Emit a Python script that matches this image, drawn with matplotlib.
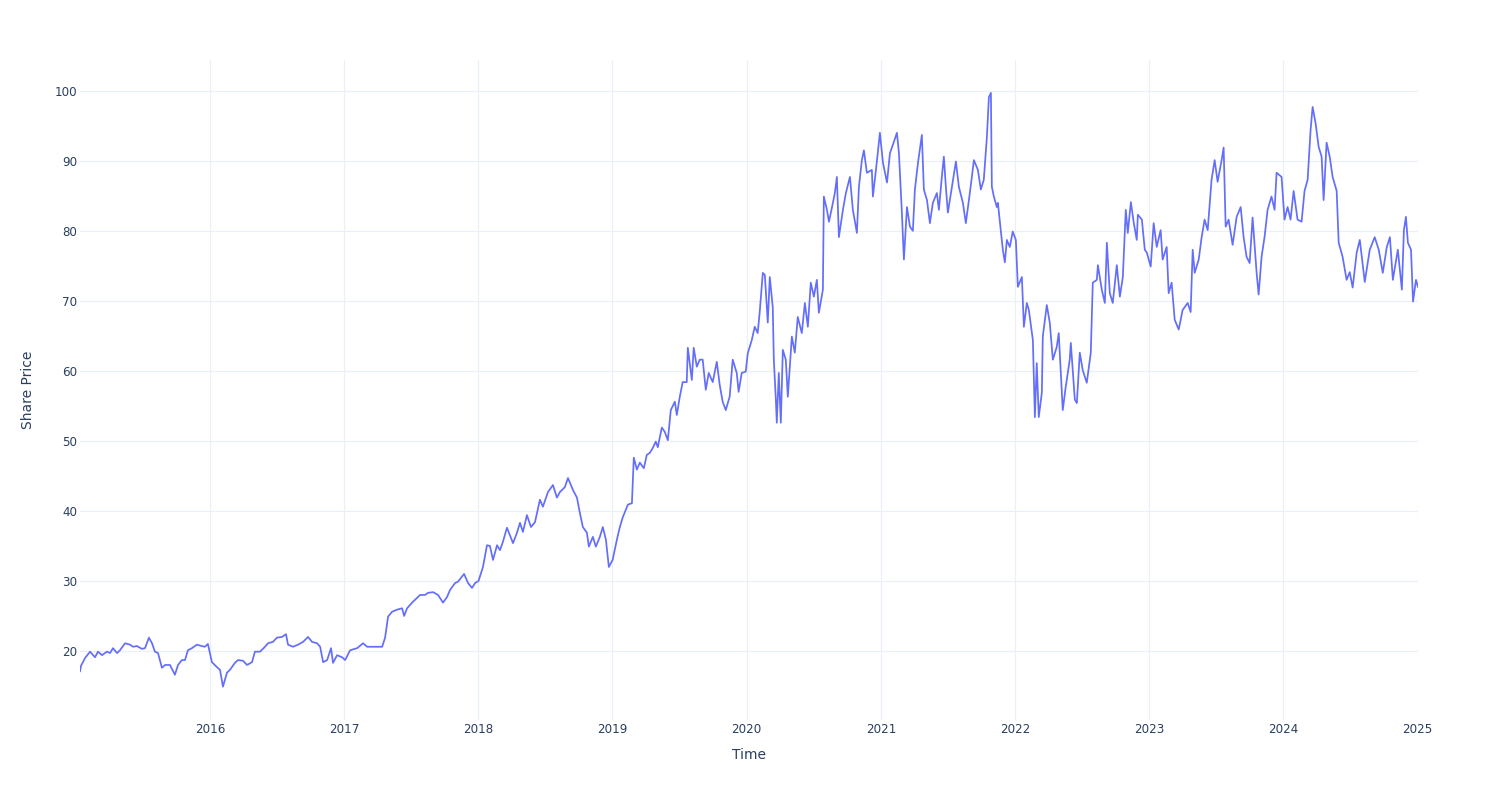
import pandas as pd
import matplotlib
matplotlib.use("Agg")
import matplotlib.pyplot as plt
import matplotlib.dates as mdates

# share price readings, position within each year (0-1) and price
frac_2015 = [0.031, 0.039, 0.069, 0.106, 0.143, 0.165, 0.195, 0.232, 0.255, 0.277,
             0.307, 0.329, 0.367, 0.404, 0.426, 0.456, 0.493, 0.516, 0.545, 0.568,
             0.590, 0.613, 0.642, 0.665, 0.702, 0.739, 0.762, 0.791, 0.814, 0.836,
             0.866, 0.903, 0.940, 0.963, 0.985]
price_2015 = [17.1, 17.9, 19.0, 19.9, 19.1, 19.9, 19.4, 19.9, 19.7, 20.4,
              19.7, 20.1, 21.1, 20.9, 20.6, 20.7, 20.3, 20.4, 21.9, 21.1,
              19.9, 19.7, 17.6, 18.0, 18.0, 16.6, 18.0, 18.7, 18.7, 20.1,
              20.4, 20.9, 20.7, 20.6, 21.0]

frac_2016 = [0.015, 0.052, 0.075, 0.097, 0.127, 0.149, 0.186, 0.209, 0.246, 0.276,
             0.313, 0.335, 0.373, 0.410, 0.432, 0.469, 0.499, 0.536, 0.566, 0.581,
             0.618, 0.656, 0.693, 0.730, 0.760, 0.797, 0.820, 0.842, 0.872, 0.901,
             0.916, 0.946, 0.983]
price_2016 = [18.4, 17.7, 17.3, 14.9, 16.9, 17.3, 18.3, 18.7, 18.6, 18.0,
              18.4, 19.9, 19.9, 20.6, 21.1, 21.3, 21.9, 22.0, 22.4, 20.9,
              20.6, 20.9, 21.3, 22.0, 21.3, 21.1, 20.6, 18.4, 18.7, 20.4,
              18.3, 19.4, 19.1]

frac_2017 = [0.006, 0.043, 0.095, 0.140, 0.170, 0.215, 0.282, 0.304, 0.326, 0.356,
             0.393, 0.431, 0.446, 0.468, 0.505, 0.527, 0.565, 0.602, 0.624, 0.662,
             0.699, 0.736, 0.766, 0.788, 0.826, 0.848, 0.893, 0.923, 0.952, 0.975]
price_2017 = [18.7, 20.1, 20.4, 21.1, 20.6, 20.6, 20.6, 21.9, 24.9, 25.6,
              25.9, 26.1, 25.0, 26.1, 26.9, 27.3, 28.0, 28.0, 28.3, 28.4,
              28.0, 26.9, 27.7, 28.7, 29.7, 29.9, 31.0, 29.7, 29.0, 29.7]

frac_2018 = [0.001, 0.034, 0.064, 0.086, 0.109, 0.139, 0.161, 0.183, 0.213, 0.258,
             0.288, 0.310, 0.332, 0.362, 0.392, 0.422, 0.459, 0.481, 0.519, 0.556,
             0.586, 0.608, 0.645, 0.668, 0.705, 0.735, 0.757, 0.779, 0.809, 0.824,
             0.854, 0.876, 0.906, 0.928, 0.951, 0.973]
price_2018 = [30.0, 32.0, 35.1, 35.0, 33.0, 35.1, 34.4, 35.6, 37.6, 35.4,
              36.9, 38.3, 37.0, 39.4, 37.7, 38.4, 41.6, 40.6, 42.7, 43.7,
              41.9, 42.7, 43.4, 44.7, 43.0, 41.9, 39.7, 37.7, 36.9, 34.9,
              36.3, 34.9, 36.3, 37.7, 35.9, 32.0]

frac_2019 = [0.001, 0.033, 0.055, 0.077, 0.115, 0.145, 0.159, 0.182, 0.204, 0.234,
             0.256, 0.279, 0.301, 0.323, 0.338, 0.368, 0.390, 0.413, 0.435, 0.465,
             0.480, 0.502, 0.524, 0.554, 0.562, 0.592, 0.606, 0.629, 0.651, 0.673,
             0.696, 0.718, 0.748, 0.778, 0.800, 0.822, 0.845, 0.874, 0.897, 0.927,
             0.941, 0.964, 0.994]
price_2019 = [33.0, 35.9, 37.7, 39.1, 40.9, 41.1, 47.6, 45.9, 46.9, 46.1,
              48.0, 48.3, 49.0, 49.9, 49.1, 51.9, 51.3, 50.1, 54.4, 55.6,
              53.7, 56.3, 58.4, 58.4, 63.3, 58.7, 63.3, 60.6, 61.6, 61.6,
              57.3, 59.7, 58.4, 61.3, 58.0, 55.6, 54.4, 56.3, 61.6, 59.7,
              57.0, 59.7, 59.9]

frac_2020 = [0.009, 0.039, 0.061, 0.083, 0.098, 0.121, 0.136, 0.158, 0.173, 0.195,
             0.203, 0.218, 0.225, 0.240, 0.255, 0.270, 0.292, 0.307, 0.337, 0.359,
             0.381, 0.411, 0.434, 0.456, 0.478, 0.501, 0.523, 0.538, 0.568, 0.575,
             0.598, 0.613, 0.635, 0.657, 0.672, 0.687, 0.717, 0.739, 0.769, 0.791,
             0.821, 0.836, 0.858, 0.873, 0.895, 0.932, 0.940, 0.970, 0.992]
price_2020 = [62.5, 64.4, 66.3, 65.4, 68.4, 74.0, 73.7, 66.9, 73.4, 69.1,
              61.6, 55.9, 52.6, 59.7, 52.6, 63.0, 61.6, 56.3, 64.9, 62.6,
              67.7, 65.4, 69.7, 66.3, 72.6, 70.6, 73.0, 68.3, 71.6, 84.9,
              83.0, 81.3, 83.3, 85.4, 87.7, 79.1, 83.0, 85.4, 87.7, 83.0,
              79.7, 86.3, 90.1, 91.5, 88.3, 88.7, 84.9, 90.0, 94.0]

frac_2021 = [0.015, 0.045, 0.067, 0.089, 0.119, 0.134, 0.156, 0.171, 0.194, 0.216,
             0.238, 0.253, 0.276, 0.305, 0.320, 0.343, 0.365, 0.387, 0.417, 0.432,
             0.454, 0.469, 0.484, 0.499, 0.529, 0.559, 0.581, 0.611, 0.633, 0.656,
             0.678, 0.693, 0.723, 0.745, 0.767, 0.790, 0.805, 0.820, 0.827, 0.842,
             0.864, 0.872, 0.894, 0.909, 0.924, 0.939, 0.961, 0.983]
price_2021 = [89.7, 86.9, 91.1, 92.3, 94.0, 91.1, 82.6, 75.9, 83.4, 80.6,
              80.0, 85.9, 89.7, 93.7, 85.9, 84.4, 81.1, 84.0, 85.4, 83.0,
              87.7, 90.6, 86.3, 82.6, 86.3, 89.9, 86.3, 84.0, 81.1, 84.4,
              87.7, 90.1, 88.7, 85.9, 87.3, 93.4, 99.1, 99.7, 86.3, 84.9,
              83.4, 84.0, 80.0, 77.3, 75.5, 78.7, 77.7, 79.9]

frac_2022 = [0.006, 0.021, 0.051, 0.066, 0.088, 0.103, 0.133, 0.148, 0.162, 0.177,
             0.200, 0.207, 0.237, 0.259, 0.282, 0.311, 0.326, 0.356, 0.378, 0.408,
             0.416, 0.446, 0.461, 0.483, 0.505, 0.535, 0.565, 0.580, 0.610, 0.618,
             0.647, 0.670, 0.685, 0.707, 0.729, 0.759, 0.782, 0.804, 0.826, 0.841,
             0.864, 0.886, 0.908, 0.916, 0.946, 0.968, 0.983]
price_2022 = [78.7, 72.0, 73.4, 66.3, 69.7, 68.7, 64.4, 53.4, 61.1, 53.4,
              56.9, 64.9, 69.4, 66.9, 61.6, 63.4, 65.4, 54.4, 57.7, 61.6,
              64.0, 55.9, 55.4, 62.6, 60.1, 58.3, 62.6, 72.6, 73.0, 75.1,
              71.6, 69.7, 78.3, 71.1, 69.7, 75.1, 70.6, 73.4, 83.0, 79.7,
              84.1, 81.1, 78.7, 82.3, 81.6, 77.3, 76.9]

frac_2023 = [0.012, 0.034, 0.057, 0.086, 0.101, 0.131, 0.146, 0.168, 0.191, 0.221,
             0.250, 0.288, 0.310, 0.325, 0.340, 0.370, 0.392, 0.414, 0.437, 0.466,
             0.489, 0.511, 0.541, 0.556, 0.571, 0.593, 0.623, 0.653, 0.683, 0.705,
             0.727, 0.750, 0.772, 0.802, 0.817, 0.839, 0.861, 0.884, 0.913, 0.936,
             0.951, 0.988]
price_2023 = [74.9, 81.1, 77.7, 80.1, 75.9, 77.7, 71.1, 72.6, 67.3, 65.9,
              68.7, 69.7, 68.4, 77.3, 74.0, 75.9, 79.1, 81.6, 80.1, 87.3,
              90.1, 87.0, 90.1, 91.9, 80.6, 81.6, 78.0, 82.0, 83.4, 79.1,
              76.3, 75.4, 81.9, 74.0, 70.9, 76.3, 79.1, 83.0, 84.9, 83.0,
              88.3, 87.7]

frac_2024 = [0.010, 0.033, 0.055, 0.078, 0.107, 0.137, 0.159, 0.182, 0.204, 0.219,
             0.241, 0.264, 0.286, 0.301, 0.323, 0.346, 0.368, 0.398, 0.413, 0.442,
             0.472, 0.495, 0.517, 0.547, 0.570, 0.607, 0.644, 0.681, 0.711, 0.741,
             0.771, 0.794, 0.816, 0.853, 0.883, 0.898, 0.913, 0.928, 0.951, 0.966,
             0.988]
price_2024 = [81.6, 83.4, 81.6, 85.7, 81.6, 81.3, 85.7, 87.3, 94.4, 97.7,
              95.4, 92.0, 90.6, 84.4, 92.6, 90.6, 87.7, 85.7, 78.3, 76.3,
              73.0, 74.1, 71.9, 76.9, 78.7, 72.7, 77.3, 79.1, 77.3, 74.0,
              77.7, 79.1, 73.0, 77.3, 71.6, 80.1, 82.0, 78.3, 77.3, 69.9,
              73.0]

frac_2025 = [0.003]
price_2025 = [72.0]

years = {
    2015: (frac_2015, price_2015), 2016: (frac_2016, price_2016),
    2017: (frac_2017, price_2017), 2018: (frac_2018, price_2018),
    2019: (frac_2019, price_2019), 2020: (frac_2020, price_2020),
    2021: (frac_2021, price_2021), 2022: (frac_2022, price_2022),
    2023: (frac_2023, price_2023), 2024: (frac_2024, price_2024),
    2025: (frac_2025, price_2025),
}

dates = []
prices = []
for yr, (fr, pr) in years.items():
    start = pd.Timestamp(yr, 1, 1)
    ndays = (pd.Timestamp(yr + 1, 1, 1) - start).days
    for f, p in zip(fr, pr):
        dates.append(start + pd.Timedelta(days=f * ndays))
        prices.append(p)

df = pd.DataFrame({"Time": dates, "Share Price": prices})

txt = "#2a3f5f"
grid = "#EBF0F8"

fig = plt.figure(figsize=(15, 8), dpi=100)
ax = fig.add_axes([80 / 1500, 80 / 800, 1338 / 1500, 660 / 800])
ax.plot(df["Time"], df["Share Price"], color="#636EFA", lw=1.25)

ax.set_xlim(df["Time"].iloc[0], df["Time"].iloc[-1])
ax.set_ylim(10.14, 104.4)
ax.set_yticks(range(20, 101, 10))
ax.xaxis.set_major_locator(mdates.YearLocator())
ax.xaxis.set_major_formatter(mdates.DateFormatter("%Y"))

for s in ax.spines.values():
    s.set_visible(False)
ax.grid(True, color=grid, lw=0.9)
ax.set_axisbelow(True)
ax.tick_params(axis="both", length=0, colors=txt, labelsize=8.6)
ax.tick_params(axis="x", pad=2)
ax.tick_params(axis="y", pad=2)

ax.set_xlabel("Time", color=txt, fontsize=10, labelpad=9)
ax.set_ylabel("Share Price", color=txt, fontsize=10, labelpad=14)

fig.savefig("out.png", dpi=100, facecolor="white")
